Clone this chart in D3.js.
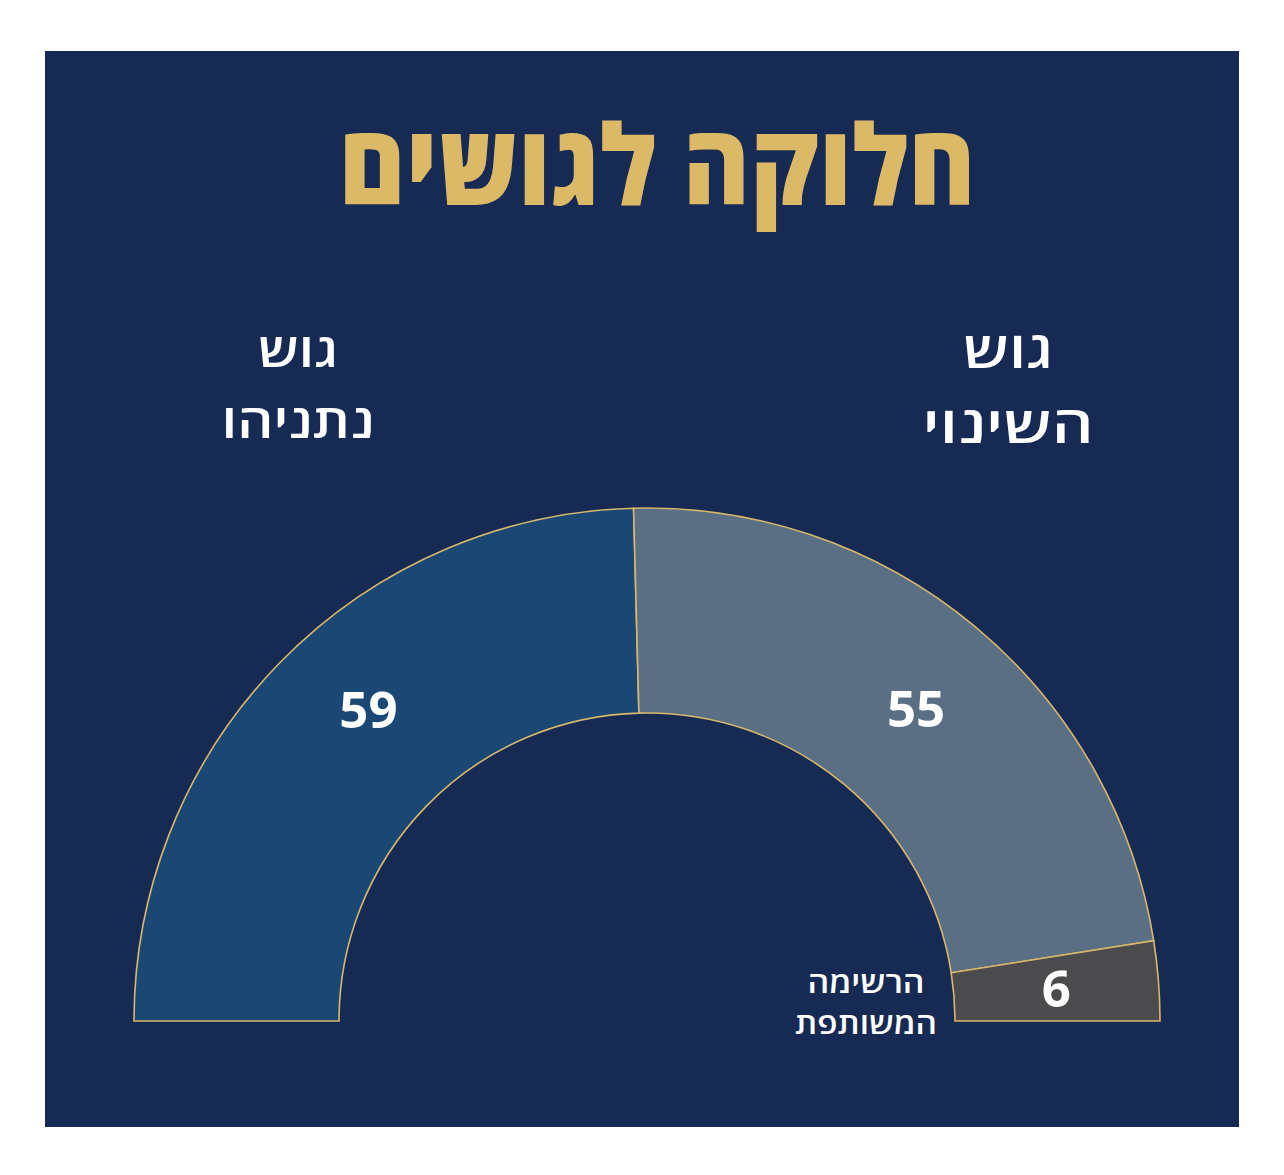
<!DOCTYPE html>
<html lang="he" dir="rtl">
<head>
<meta charset="utf-8">
<script src="https://cdn.jsdelivr.net/npm/d3@7"></script>
<style>
  html, body { margin: 0; padding: 0; background: #ffffff; }
  svg { display: block; }
  text { font-family: "Open Sans", "DejaVu Sans", sans-serif; }
</style>
</head>
<body>
<div id="chart"></div>
<script>
// seats per bloc, left to right around the half circle
const blocs = ["גוש נתניהו", "גוש השינוי", "הרשימה המשותפת"];
const seats = [59, 55, 6];
const colors = ["#1b4774", "#5a6f84", "#4b4b4d"];

const title = "חלוקה לגושים";
const headLeft = ["גוש", "נתניהו"];
const headRight = ["גוש", "השינוי"];
const smallLabel = ["הרשימה", "המשותפת"];

const W = 1284, H = 1175;
const cx = 647, cy = 1021;
const outerR = 513, innerR = 308;

const svg = d3.select("#chart").append("svg")
    .attr("width", W)
    .attr("height", H);

svg.append("rect")
    .attr("x", 45).attr("y", 51)
    .attr("width", 1194).attr("height", 1076)
    .attr("fill", "#172a54");

svg.append("text")
    .attr("x", 657).attr("y", 205)
    .attr("text-anchor", "middle")
    .attr("direction", "rtl")
    .attr("font-size", 112)
    .attr("font-weight", 800)
    .attr("fill", "#dcb967")
    .attr("textLength", 637)
    .attr("lengthAdjust", "spacingAndGlyphs")
    .text(title);

// the original face is wider than open sans: widen each line to its width
function wideText(t, x, y, size, weight, width) {
    const el = svg.append("text")
        .attr("text-anchor", "middle")
        .attr("direction", "rtl")
        .attr("font-size", size)
        .attr("font-weight", weight)
        .attr("fill", "#ffffff")
        .text(t);
    const k = width / el.node().getComputedTextLength();
    el.attr("transform", `translate(${x},${y}) scale(${k},1)`);
}
headLeft.forEach((t, i) => wideText(t, 298, [367, 438][i], 47, 600, [80, 153][i]));
headRight.forEach((t, i) => wideText(t, 1008, [368, 443][i], 51, 600, [90, 171][i]));

const data = seats.map((v, i) => ({ name: blocs[i], value: v, color: colors[i] }));

const pie = d3.pie()
    .sort(null)
    .value(d => d.value)
    .startAngle(-Math.PI / 2)
    .endAngle(Math.PI / 2);

const arc = d3.arc().innerRadius(innerR).outerRadius(outerR);

const g = svg.append("g").attr("transform", `translate(${cx},${cy})`);
const arcs = pie(data);

g.selectAll("path")
    .data(arcs)
    .enter().append("path")
    .attr("d", arc)
    .attr("fill", d => d.data.color)
    .attr("stroke", "#d8b86a")
    .attr("stroke-width", 1.6);

// number labels; the big ones sit a bit above the middle of the band
const nudge = [0.069, 0.018, 0];
g.selectAll("text.num")
    .data(arcs)
    .enter().append("text")
    .attr("class", "num")
    .attr("transform", (d, i) => {
        if (i === 2) return `translate(${arc.centroid(d)})`;
        const a = (d.startAngle + d.endAngle) / 2 + nudge[i];
        const r = i === 0 ? 418 : 412;
        return `translate(${r * Math.sin(a)},${-r * Math.cos(a)})`;
    })
    .attr("text-anchor", "middle")
    .attr("dy", "0.36em")
    .attr("font-size", 51)
    .attr("font-weight", 700)
    .attr("fill", "#ffffff")
    .text(d => d.value);

smallLabel.forEach((t, i) => wideText(t, 866, [993, 1034][i], 29, 600, [117, 142][i]));
</script>
</body>
</html>
